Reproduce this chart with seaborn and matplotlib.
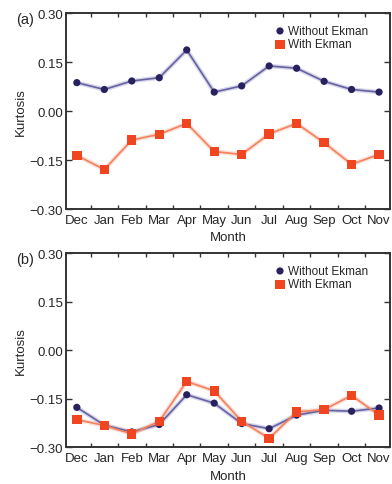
import numpy as np
import pandas as pd
import matplotlib
matplotlib.use("Agg")
import matplotlib.pyplot as plt
import seaborn as sns

months = ["Dec", "Jan", "Feb", "Mar", "Apr", "May", "Jun", "Jul", "Aug", "Sep", "Oct", "Nov"]

# panel (a)
a_without = [0.087, 0.066, 0.092, 0.102, 0.187, 0.058, 0.077, 0.138, 0.131, 0.091, 0.066, 0.058]
a_with = [-0.136, -0.179, -0.089, -0.071, -0.038, -0.124, -0.133, -0.070, -0.038, -0.097, -0.163, -0.133]

# panel (b)
b_without = [-0.177, -0.232, -0.253, -0.230, -0.138, -0.164, -0.227, -0.243, -0.201, -0.186, -0.189, -0.179]
b_with = [-0.215, -0.233, -0.259, -0.220, -0.097, -0.126, -0.220, -0.273, -0.191, -0.184, -0.140, -0.201]

yticks = [-0.30, -0.15, 0.00, 0.15, 0.30]
ytick_labels = ["\u22120.30", "\u22120.15", "0.00", "0.15", "0.30"]

sns.set_style("ticks")
plt.rcParams['font.family'] = ['Liberation Sans', 'DejaVu Sans']

line_cols = {"Without Ekman": "#6462a4", "With Ekman": "#f4805e"}
mark_cols = {"Without Ekman": "#27215e", "With Ekman": "#ef4520"}
markers = {"Without Ekman": "o", "With Ekman": "s"}
sizes = {"Without Ekman": 27, "With Ekman": 45}

fig = plt.figure(figsize=(3.92, 4.85), dpi=100)
ax1 = fig.add_axes([0.168, 0.567, 0.827, 0.404])
ax2 = fig.add_axes([0.168, 0.076, 0.827, 0.400])

panels = [(ax1, a_without, a_with, "(a)"), (ax2, b_without, b_with, "(b)")]

for ax, wo, wi, tag in panels:
    df = pd.DataFrame({
        "x": list(range(12)) * 2,
        "Kurtosis": wo + wi,
        "case": ["Without Ekman"] * 12 + ["With Ekman"] * 12,
    })
    # soft glow under the lines
    sns.lineplot(data=df, x="x", y="Kurtosis", hue="case", palette=line_cols,
                 lw=3.2, alpha=0.25, legend=False, ax=ax, sort=False)
    sns.lineplot(data=df, x="x", y="Kurtosis", hue="case", palette=line_cols,
                 lw=1.2, legend=False, ax=ax, sort=False)
    for case in ["Without Ekman", "With Ekman"]:
        sub = df[df["case"] == case]
        ax.scatter(sub["x"], sub["Kurtosis"], marker=markers[case], s=sizes[case],
                   color=mark_cols[case], edgecolor="none", zorder=5, label=case)

    ax.set_xlim(-0.4, 11.4)
    ax.set_ylim(-0.30, 0.30)
    ax.set_xticks(range(12))
    ax.set_xticklabels(months, fontsize=9.5)
    ax.tick_params(axis="x", which="major", length=0, pad=3.5)
    ax.set_xticks(np.arange(0.5, 11.5, 1.0), minor=True)
    ax.tick_params(axis="x", which="minor", direction="in", length=3, width=1,
                   top=True, bottom=True, color="#333333")
    ax.set_yticks(yticks)
    ax.set_yticklabels(ytick_labels, fontsize=9.5)
    ax.tick_params(axis="y", direction="in", length=4, width=1, left=True, right=True,
                   pad=2, color="#333333")
    for s in ax.spines.values():
        s.set_visible(True)
        s.set_linewidth(1.4)
        s.set_color("#333333")
    ax.set_xlabel("Month", fontsize=9.5, labelpad=4)
    ax.set_ylabel("Kurtosis", fontsize=9.5, labelpad=2)
    ax.legend(loc="upper right", bbox_to_anchor=(0.955, 0.975), frameon=False,
              fontsize=8.5, handletextpad=0.1, labelspacing=0.12, borderaxespad=0.2,
              handlelength=1.2, markerscale=1.0)
    bb = ax.get_position()
    fig.text(0.041, bb.y1 - 0.012, tag, fontsize=10.5, ha="left", va="center")

fig.savefig("out.png", dpi=100)
